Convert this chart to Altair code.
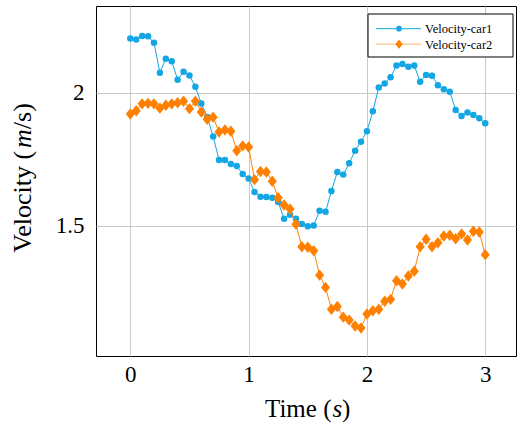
import altair as alt
import pandas as pd

# Sample times (s)
time_s = [0.00, 0.05, 0.10, 0.15, 0.20, 0.25, 0.30, 0.35, 0.40, 0.45,
          0.50, 0.55, 0.60, 0.65, 0.70, 0.75, 0.80, 0.85, 0.90, 0.95,
          1.00, 1.05, 1.10, 1.15, 1.20, 1.25, 1.30, 1.35, 1.40, 1.45,
          1.50, 1.55, 1.60, 1.65, 1.70, 1.75, 1.80, 1.85, 1.90, 1.95,
          2.00, 2.05, 2.10, 2.15, 2.20, 2.25, 2.30, 2.35, 2.40, 2.45,
          2.50, 2.55, 2.60, 2.65, 2.70, 2.75, 2.80, 2.85, 2.90, 2.95,
          3.00]

# Velocity of car 1 (m/s)
velocity_car1 = [2.204, 2.200, 2.213, 2.212, 2.188, 2.075, 2.128, 2.118, 2.049, 2.079,
                 2.065, 2.022, 1.959, 1.909, 1.835, 1.747, 1.747, 1.732, 1.724, 1.694,
                 1.677, 1.627, 1.609, 1.608, 1.605, 1.589, 1.526, 1.541, 1.526, 1.506,
                 1.498, 1.501, 1.556, 1.552, 1.630, 1.702, 1.692, 1.735, 1.782, 1.816,
                 1.855, 1.930, 2.020, 2.035, 2.058, 2.102, 2.108, 2.098, 2.102, 2.041,
                 2.067, 2.064, 2.028, 2.013, 2.004, 1.935, 1.912, 1.926, 1.916, 1.904,
                 1.885]

# Velocity of car 2 (m/s)
velocity_car2 = [1.920, 1.932, 1.958, 1.960, 1.958, 1.942, 1.953, 1.958, 1.962, 1.968,
                 1.940, 1.968, 1.927, 1.900, 1.908, 1.852, 1.860, 1.855, 1.782, 1.800,
                 1.796, 1.673, 1.704, 1.702, 1.667, 1.605, 1.578, 1.563, 1.505, 1.421,
                 1.419, 1.406, 1.314, 1.268, 1.186, 1.196, 1.156, 1.145, 1.123, 1.115,
                 1.168, 1.180, 1.186, 1.216, 1.223, 1.293, 1.281, 1.311, 1.329, 1.421,
                 1.449, 1.421, 1.436, 1.461, 1.464, 1.451, 1.469, 1.446, 1.479, 1.476,
                 1.391]

series_names = ["Velocity-car1", "Velocity-car2"]
series_colors = ["#12a7e4", "#ff8000"]
legend_line_colors = ["#12a7e4", "#ffb56e"]
x_ticks = [0, 1, 2, 3]
y_ticks = [1.5, 2.0]

FONT = "Liberation Serif"
DIAMOND = "M0,-1L0.8,0L0,1L-0.8,0Z"

df = pd.DataFrame({
    "time": time_s + time_s,
    "velocity": velocity_car1 + velocity_car2,
    "series": [series_names[0]] * len(time_s) + [series_names[1]] * len(time_s),
})

x_enc = alt.X(
    "time:Q",
    scale=alt.Scale(domain=[-0.29, 3.26], nice=False, zero=False),
    axis=alt.Axis(values=x_ticks, format="d", title=None, grid=True,
                  labelFont=FONT, labelFontSize=23, labelColor="black",
                  labelPadding=7, ticks=False, domain=False),
)
y_enc = alt.Y(
    "velocity:Q",
    scale=alt.Scale(domain=[1.010, 2.326], nice=False, zero=False),
    axis=alt.Axis(values=y_ticks, format="~g", title=None, grid=True,
                  labelFont=FONT, labelFontSize=23, labelColor="black",
                  labelPadding=12, ticks=False, domain=False),
)
color_enc = alt.Color("series:N",
                      scale=alt.Scale(domain=series_names, range=series_colors),
                      legend=None)

base = alt.Chart(df).encode(x=x_enc, y=y_enc, color=color_enc)

car1 = base.transform_filter(alt.datum.series == series_names[0])
car2 = base.transform_filter(alt.datum.series == series_names[1])

line1 = car1.mark_line(strokeWidth=1)
pts1 = car1.mark_point(shape="circle", filled=True, size=42, opacity=1)
line2 = car2.mark_line(strokeWidth=1)
pts2 = car2.mark_point(shape=DIAMOND, filled=True, size=130, opacity=1)


def label_piece(text, x, y, angle=0, italic=False, align="left", size=25):
    """One run of an axis title, so that math symbols can be set in italics."""
    return alt.Chart(pd.DataFrame({"t": [text]})).mark_text(
        font=FONT, fontSize=size, align=align, baseline="alphabetic",
        angle=angle, color="black", fontStyle="italic" if italic else "normal",
    ).encode(x=alt.value(x), y=alt.value(y), text="t:N")


# x axis title: Time (s)
x_title = [
    label_piece("Time (", 169, 410.5),
    label_piece("s", 236.4, 410.5, italic=True),
    label_piece(")", 246.1, 410.5),
]

# y axis title: Velocity (m/s), read bottom to top
y_title = [
    label_piece("Velocity (", -65, 246.7, angle=270, size=26),
    label_piece("m", -65, 142.0, angle=270, italic=True, size=26),
    label_piece("/s)", -65, 123.2, angle=270, size=26),
]


def legend_row(i, y):
    one = pd.DataFrame({"label": [series_names[i]]})
    rule = alt.Chart(one).mark_rule(color=legend_line_colors[i], strokeWidth=1).encode(
        x=alt.value(280), x2=alt.value(325), y=alt.value(y))
    if i == 0:
        mark = alt.Chart(one).mark_point(shape="circle", filled=True, size=32,
                                         opacity=1, color=series_colors[i])
    else:
        mark = alt.Chart(one).mark_point(shape=DIAMOND, filled=True, size=85,
                                         opacity=1, color=series_colors[i])
    mark = mark.encode(x=alt.value(303), y=alt.value(y))
    text = alt.Chart(one).mark_text(font=FONT, fontSize=12.5, align="left",
                                    baseline="middle", color="black").encode(
        x=alt.value(329), y=alt.value(y + 0.5), text="label:N")
    return [rule, mark, text]


legend_box = alt.Chart(pd.DataFrame({"k": [0]})).mark_rect(
    fill="white", stroke="black", strokeWidth=1).encode(
    x=alt.value(272), x2=alt.value(417), y=alt.value(8), y2=alt.value(51))

chart = alt.layer(
    line1, pts1, line2, pts2,
    *x_title, *y_title,
    legend_box, *legend_row(0, 22.7), *legend_row(1, 38.2),
).properties(
    width=420, height=350,
    padding={"left": 96, "top": 6, "right": 1, "bottom": 71},
    autosize=alt.AutoSizeParams(type="none"),
).configure_view(
    stroke="black", strokeWidth=1,
).configure_axis(
    gridColor="#c8c8c8", gridWidth=1,
)

chart.save("out.html", embed_options={"renderer": "svg", "actions": False})
